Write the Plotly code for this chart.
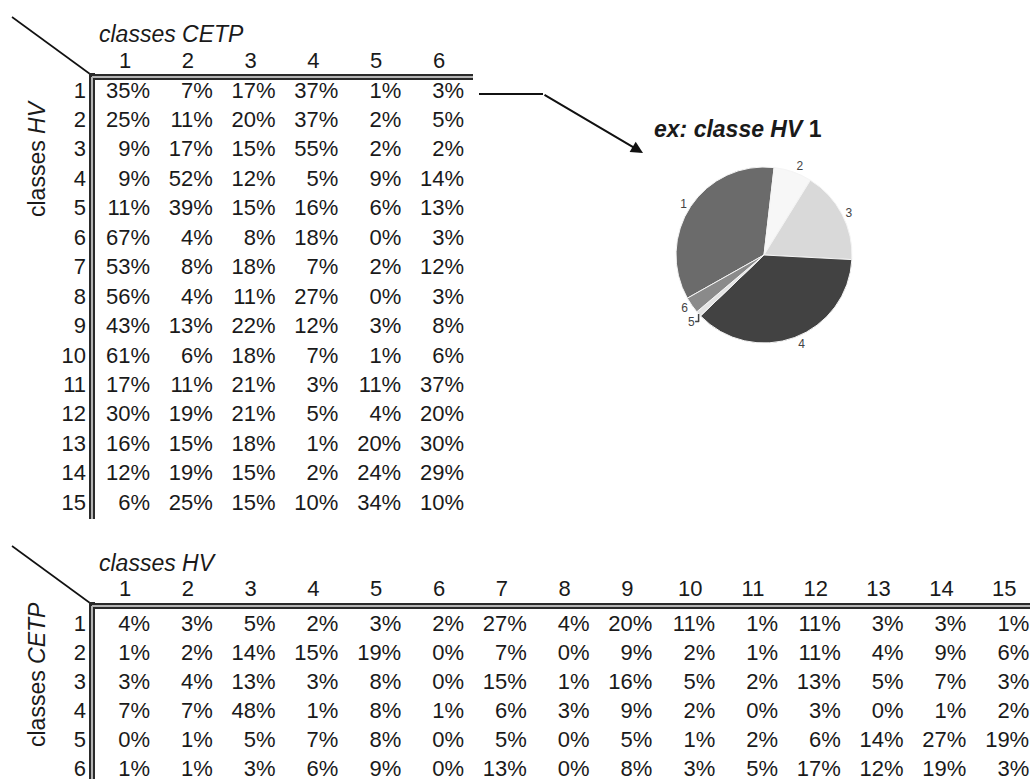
import plotly.graph_objects as go

# classes CETP (columns of the top table) / classes HV (rows)
cetp_classes = [1, 2, 3, 4, 5, 6]
hv_classes = list(range(1, 16))

# top table: share of each CETP class inside each HV class (%)
hv_rows = [
    [35, 7, 17, 37, 1, 3],
    [25, 11, 20, 37, 2, 5],
    [9, 17, 15, 55, 2, 2],
    [9, 52, 12, 5, 9, 14],
    [11, 39, 15, 16, 6, 13],
    [67, 4, 8, 18, 0, 3],
    [53, 8, 18, 7, 2, 12],
    [56, 4, 11, 27, 0, 3],
    [43, 13, 22, 12, 3, 8],
    [61, 6, 18, 7, 1, 6],
    [17, 11, 21, 3, 11, 37],
    [30, 19, 21, 5, 4, 20],
    [16, 15, 18, 1, 20, 30],
    [12, 19, 15, 2, 24, 29],
    [6, 25, 15, 10, 34, 10],
]

# bottom table: share of each HV class inside each CETP class (%)
cetp_rows = [
    [4, 3, 5, 2, 3, 2, 27, 4, 20, 11, 1, 11, 3, 3, 1],
    [1, 2, 14, 15, 19, 0, 7, 0, 9, 2, 1, 11, 4, 9, 6],
    [3, 4, 13, 3, 8, 0, 15, 1, 16, 5, 2, 13, 5, 7, 3],
    [7, 7, 48, 1, 8, 1, 6, 3, 9, 2, 0, 3, 0, 1, 2],
    [0, 1, 5, 7, 8, 0, 5, 0, 5, 1, 2, 6, 14, 27, 19],
    [1, 1, 3, 6, 9, 0, 13, 0, 8, 3, 5, 17, 12, 19, 3],
]

# pie example = first HV class
pie_class = 1
pie_values = hv_rows[pie_class - 1]
pie_colors = ["#6b6b6b", "#f7f7f7", "#d9d9d9", "#424242", "#e4e4e4", "#8a8a8a"]

W, H = 1030, 779
FONT = "Liberation Sans, Arial, sans-serif"
INK = "#1a1a1a"
FS = 22

# table geometry (px)
col_pitch = 62.8
cell_right0 = 150     # right edge of values in first column
head_center0 = 125    # centre of first column header
label_right = 86      # right edge of row labels
corner_x = 90

top = dict(corner_y=74, title_y=34, head_y=62, row0=92, pitch=29.45, bottom=519, right=473)
bot = dict(corner_y=603, title_y=563, head_y=590, row0=625, pitch=29.0, bottom=H, right=W)

fig = go.Figure()
shapes = []
annotations = []


def add_table(geo, rows, col_ids, row_ids, col_title, row_title, row_title_y):
    # cell values, right aligned
    xs, ys, txt = [], [], []
    for i, row in enumerate(rows):
        for j, v in enumerate(row):
            xs.append(cell_right0 + j * col_pitch)
            ys.append(geo["row0"] + i * geo["pitch"])
            txt.append(f"{v}%")
    fig.add_trace(go.Scatter(x=xs, y=ys, text=txt, mode="text",
                             textposition="middle left",
                             textfont=dict(family=FONT, size=FS, color=INK),
                             hoverinfo="skip", showlegend=False))
    # column headers
    fig.add_trace(go.Scatter(x=[head_center0 + j * col_pitch for j in range(len(col_ids))],
                             y=[geo["head_y"]] * len(col_ids),
                             text=[str(c) for c in col_ids], mode="text",
                             textposition="middle center",
                             textfont=dict(family=FONT, size=FS, color=INK),
                             hoverinfo="skip", showlegend=False))
    # row labels
    fig.add_trace(go.Scatter(x=[label_right] * len(row_ids),
                             y=[geo["row0"] + i * geo["pitch"] for i in range(len(row_ids))],
                             text=[str(r) for r in row_ids], mode="text",
                             textposition="middle left",
                             textfont=dict(family=FONT, size=FS, color=INK),
                             hoverinfo="skip", showlegend=False))

    cy = geo["corner_y"] + 3
    cx = corner_x + 2
    # diagonal in the corner
    shapes.append(dict(type="line", x0=12, y0=geo["corner_y"] - 57, x1=corner_x, y1=geo["corner_y"],
                       line=dict(color="#111", width=1.6)))
    # double rules: thick dark line with a grey core
    shapes.append(dict(type="line", x0=corner_x - 1, y0=cy, x1=geo["right"], y1=cy,
                       line=dict(color="#2a2a2a", width=6)))
    shapes.append(dict(type="line", x0=cx, y0=geo["corner_y"] - 1, x1=cx, y1=geo["bottom"],
                       line=dict(color="#2a2a2a", width=6)))
    shapes.append(dict(type="line", x0=cx, y0=cy, x1=geo["right"], y1=cy,
                       line=dict(color="#b4b4b4", width=2)))
    shapes.append(dict(type="line", x0=cx, y0=cy, x1=cx, y1=geo["bottom"],
                       line=dict(color="#b4b4b4", width=2)))

    annotations.append(dict(x=97, y=geo["title_y"], xref="x", yref="y", text=f"<i>{col_title}</i>",
                            showarrow=False, xanchor="left", yanchor="middle",
                            font=dict(family=FONT, size=FS + 1, color=INK)))
    annotations.append(dict(x=37, y=row_title_y, xref="x", yref="y", text=f"classes <i>{row_title}</i>",
                            showarrow=False, textangle=-90, xanchor="center", yanchor="middle",
                            font=dict(family=FONT, size=FS + 1, color=INK)))


add_table(top, hv_rows, cetp_classes, hv_classes, "classes CETP", "HV", 158)
add_table(bot, cetp_rows, hv_classes, cetp_classes, "classes HV", "CETP", 675)

# pointer from the first row to the pie
shapes.append(dict(type="line", x0=479, y0=94, x1=543, y1=94, line=dict(color="#111", width=2)))
annotations.append(dict(x=643, y=153, ax=543, ay=94, xref="x", yref="y", axref="x", ayref="y",
                        text="", showarrow=True, arrowhead=2, arrowsize=1.2, arrowwidth=2,
                        arrowcolor="#111"))
annotations.append(dict(x=738, y=129, xref="x", yref="y",
                        text=f"<b><i>ex: classe HV</i> {pie_class}</b>", showarrow=False,
                        font=dict(family=FONT, size=23, color=INK)))

pcx, pcy, pr = 764, 255, 88
fig.add_trace(go.Pie(values=pie_values, labels=[str(c) for c in cetp_classes],
                     sort=False, direction="clockwise", rotation=240.6,
                     textinfo="label", textposition="outside",
                     outsidetextfont=dict(family=FONT, size=12, color="#444"),
                     marker=dict(colors=pie_colors, line=dict(color="#f4f4f4", width=1)),
                     domain=dict(x=[(pcx - pr) / W, (pcx + pr) / W],
                                 y=[1 - (pcy + pr) / H, 1 - (pcy - pr) / H]),
                     hoverinfo="label+percent", showlegend=False))

fig.update_layout(
    width=W, height=H,
    margin=dict(l=0, r=0, t=0, b=0),
    paper_bgcolor="white", plot_bgcolor="white",
    xaxis=dict(range=[0, W], visible=False, fixedrange=True),
    yaxis=dict(range=[H, 0], visible=False, fixedrange=True),
    shapes=shapes, annotations=annotations,
)

# drop the browser's default page margin so the figure fills the window
fig.write_html("out.html", config={"displayModeBar": False},
               post_script="document.body.style.margin='0';document.body.style.overflow='hidden';")
